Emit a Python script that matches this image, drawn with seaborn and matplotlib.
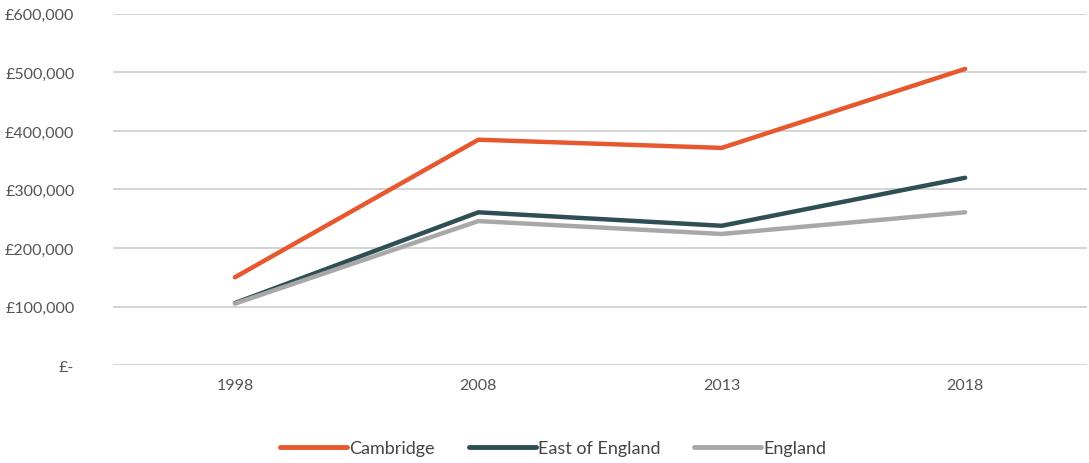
import matplotlib
matplotlib.use("Agg")
import matplotlib.pyplot as plt
import seaborn as sns
import pandas as pd
from matplotlib.ticker import FuncFormatter
from matplotlib.lines import Line2D

years = ["1998", "2008", "2013", "2018"]
cambridge = [150000, 385000, 371000, 506000]
east_of_england = [106000, 261000, 238000, 320000]
england = [105000, 246000, 224000, 261000]
series_names = ["Cambridge", "East of England", "England"]
colors = ["#E8582F", "#2E4F55", "#A8A8A8"]

df = pd.DataFrame({
    "year": years * 3,
    "price": cambridge + east_of_england + england,
    "area": [n for n in series_names for _ in years],
})

sns.set_theme(style="white")
plt.rcParams["font.family"] = ["Lato", "DejaVu Sans"]

fig = plt.figure(figsize=(10.89, 4.64), dpi=100)
ax = fig.add_axes([0.104, 0.211, 0.894, 0.757])

sns.lineplot(data=df, x="year", y="price", hue="area", palette=colors,
             hue_order=series_names, linewidth=3.2, ax=ax, legend=False, sort=False)

ax.set_xlim(-0.5, 3.5)
ax.set_ylim(0, 600000)
ax.set_yticks(range(0, 600001, 100000))
ax.yaxis.set_major_formatter(FuncFormatter(lambda v, p: "£-" if v == 0 else f"£{int(v):,}"))
ax.grid(axis="y", color="#D0D0D0", linewidth=1.3)
ax.grid(axis="x", visible=False)
ax.set_axisbelow(True)
for s in ax.spines.values():
    s.set_visible(False)
ax.set_xlabel("")
ax.set_ylabel("")
ax.tick_params(axis="y", labelsize=11.5, labelcolor="#555555", pad=28, length=0)
ax.tick_params(axis="x", labelsize=11.5, labelcolor="#555555", pad=9, length=0)

handles = [Line2D([0], [0], color=c, linewidth=3.5) for c in colors]
fig.legend(handles, series_names, loc="lower center", bbox_to_anchor=(0.508, -0.02),
           ncol=3, frameon=False, fontsize=13, handlelength=3.7, handletextpad=0.1,
           columnspacing=1.9, labelcolor="#444444")

fig.savefig("out.png", dpi=100)
